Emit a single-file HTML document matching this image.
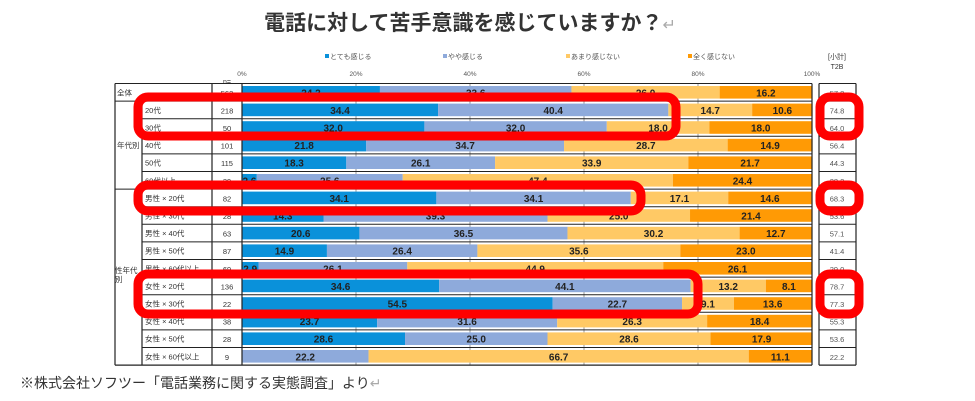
<!DOCTYPE html>
<html><head><meta charset="utf-8">
<style>
body{margin:0;width:975px;height:401px;background:#fff;overflow:hidden;font-family:"Liberation Sans","Noto Sans CJK JP",sans-serif;}
#c{position:absolute;left:0;top:0;}
</style></head>
<body>
<svg id="c" width="975" height="401" xmlns="http://www.w3.org/2000/svg">
<text x="470" y="30" text-anchor="middle" font-size="21" font-weight="bold" fill="#333" font-family="'Noto Sans CJK JP',sans-serif">電話に対して苦手意識を感じていますか？<tspan fill="#aaa" font-weight="normal" font-size="16">↵</tspan></text>
<g id="g"></g>
<text x="20" y="388" font-size="14" fill="#333" font-family="'Noto Sans CJK JP',sans-serif">※株式会社ソフツー「電話業務に関する実態調査」より<tspan fill="#aaa">↵</tspan></text>
</svg>
<script>
const labels=["全体","20代","30代","40代","50代","60代以上","男性 × 20代","男性 × 30代","男性 × 40代","男性 × 50代","男性 × 60代以上","女性 × 20代","女性 × 30代","女性 × 40代","女性 × 50代","女性 × 60代以上"];
const nValues=["563","218","50","101","115","39","82","28","63","87","69","136","22","38","28","9"];
const s1=[24.2,34.4,32.0,21.8,18.3,2.6,34.1,14.3,20.6,14.9,2.9,34.6,54.5,23.7,28.6,0];
const s2=[33.6,40.4,32.0,34.7,26.1,25.6,34.1,39.3,36.5,26.4,26.1,44.1,22.7,31.6,25.0,22.2];
const s3=[26.0,14.7,18.0,28.7,33.9,47.4,17.1,25.0,30.2,35.6,44.9,13.2,9.1,26.3,28.6,66.7];
const s4=[16.2,10.6,18.0,14.9,21.7,24.4,14.6,21.4,12.7,23.0,26.1,8.1,13.6,18.4,17.9,11.1];
const t2b=["57.8","74.8","64.0","56.4","44.3","28.2","68.3","53.6","57.1","41.4","29.0","78.7","77.3","55.3","53.6","22.2"];
const seriesNames=["とても感じる","やや感じる","あまり感じない","全く感じない"];
const ticks=[0,20,40,60,80,100];
const colors=["#0a91da","#8eaadb","#ffc965","#ff9a05"];
const NS="http://www.w3.org/2000/svg";
const g=document.getElementById('g');
const X0=242,X1=812,TOP=83.5,RH=17.6;
const x=v=>X0+(X1-X0)*v/100;
const y=i=>TOP+i*RH;
function mk(t,a,txt){const e=document.createElementNS(NS,t);for(const k in a)e.setAttribute(k,a[k]);if(txt!==undefined)e.textContent=txt;g.appendChild(e);return e;}
// legend
const lx=[325,443,566,688];
seriesNames.forEach((n,i)=>{
 const r=mk('rect',{x:lx[i],y:54,width:4,height:4,fill:colors[i]});
 
 const t=mk('text',{x:lx[i]+5,y:59,'font-size':7,fill:'#555'},n);
 
});
ticks.forEach(v=>{
 const t=mk('text',{x:x(v),y:76,'font-size':6.5,fill:'#555','text-anchor':'middle'},v+'%');
 
});
let e=mk('text',{x:227,y:84,'font-size':7,fill:'#333','text-anchor':'middle'},'n=');

e=mk('text',{x:837,y:59,'font-size':7,fill:'#333','text-anchor':'middle'},'[小計]');

e=mk('text',{x:837,y:69,'font-size':7,fill:'#333','text-anchor':'middle'},'T2B');

// gridlines
ticks.slice(1,5).forEach(v=>{const l=mk('line',{x1:x(v),x2:x(v),y1:TOP,y2:y(labels.length),stroke:'#999','stroke-width':1});
 });
// bars
labels.forEach((lab,i)=>{
 let acc=0;
 [s1,s2,s3,s4].forEach((s,k)=>{
  const v=s[i];
  if(v>0){
   const r=mk('rect',{x:x(acc),y:y(i)+2.5,width:x(acc+v)-x(acc),height:RH-5,fill:colors[k]});
   
   const t=mk('text',{x:(x(acc)+x(acc+v))/2,y:y(i)+RH/2+4,'font-size':10,'font-weight':'bold',fill:'#222','text-anchor':'middle'},v.toFixed(1));
   
  }
  acc+=v;
 });
 const lt=mk('text',{x:i===0?117:145,y:y(i)+RH/2+3,'font-size':7.5,fill:'#333'},lab);
 
 const nt=mk('text',{x:227,y:y(i)+RH/2+3.5,'font-size':7.5,fill:'#333','text-anchor':'middle'},nValues[i]);
 
 const tt=mk('text',{x:837,y:y(i)+RH/2+3.5,'font-size':7.5,fill:'#555','text-anchor':'middle'},t2b[i]);
 
 const hl=mk('line',{x1:i===0||i===1||i===6?115:142,x2:812,y1:y(i),y2:y(i),stroke:'#222','stroke-width':1});
 
 const hl2=mk('line',{x1:819,x2:856,y1:y(i),y2:y(i),stroke:'#222','stroke-width':1});
 
});
const B=y(labels.length);
[[115,115,TOP,B],[142,142,y(1),B],[212,212,TOP,B],[242,242,TOP,B],[812,812,TOP,B],[819,819,TOP,B],[856,856,TOP,B],[115,812,B,B],[819,856,B,B]].forEach(a=>{
 const l=mk('line',{x1:a[0],x2:a[1],y1:a[2],y2:a[3],stroke:'#222','stroke-width':1.2});
 
});
e=mk('text',{x:117,y:y(3)+RH/2+3,'font-size':7.5,fill:'#333'},'年代別');

e=mk('text',{x:115,y:y(11)-4,'font-size':7.5,fill:'#333'},'性年代');

e=mk('text',{x:115,y:y(11)+5,'font-size':7.5,fill:'#333'},'別');

// highlights
[[138,97,538,39],[138,185,503,26],[138,274,560,40],[820,97,39,39],[820,185,39,26],[820,274,39,40]].forEach(a=>{
 const r=mk('rect',{x:a[0],y:a[1],width:a[2],height:a[3],rx:10,fill:'none',stroke:'#ff0000','stroke-width':9});
 
});
</script>
</body></html>
